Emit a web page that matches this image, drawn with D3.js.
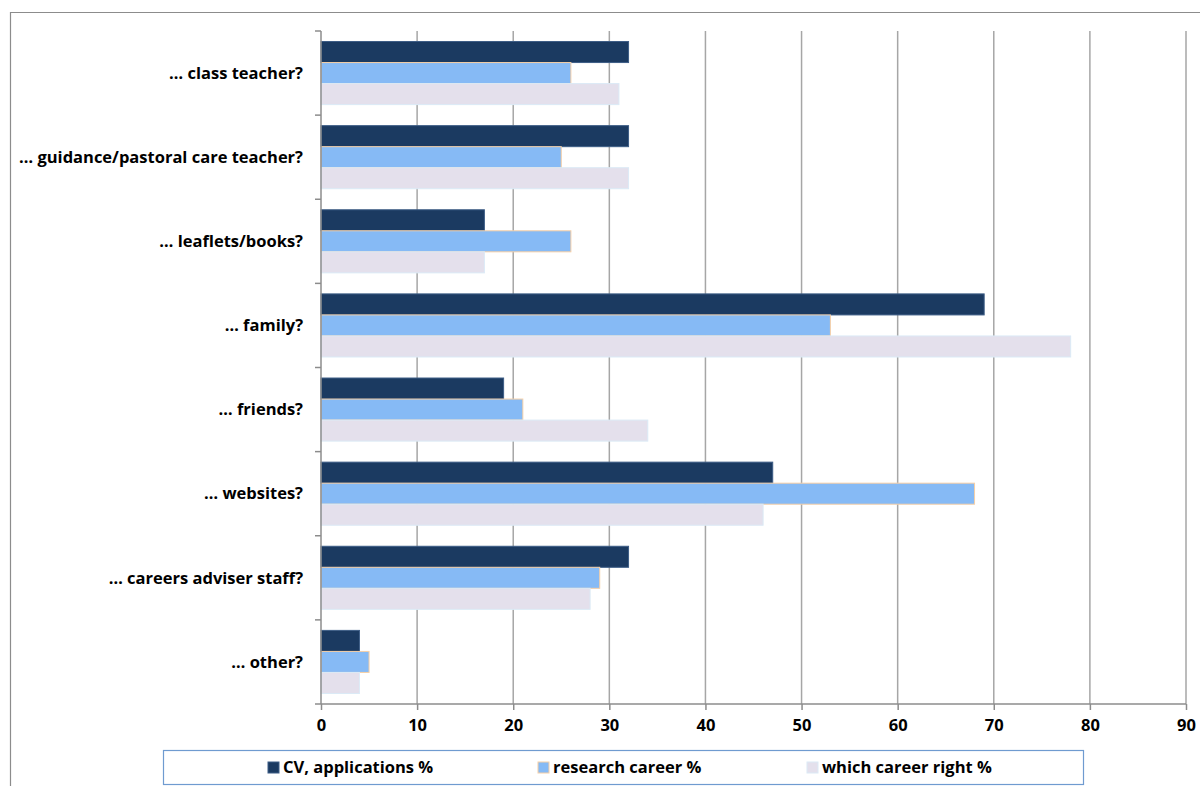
<!DOCTYPE html>
<html>
<head>
<meta charset="utf-8">
<script src="https://cdn.jsdelivr.net/npm/d3@7"></script>
<style>
  body { margin: 0; background: #fff; }
  svg text { font-family: "Open Sans", "Liberation Sans", sans-serif; font-weight: 700; fill: #000; }
</style>
</head>
<body>
<svg class="chart"></svg>
<script>
var width = 1200;
var height = 786;

// chart values
var categories = [
    "\u2026 class teacher?",
    "\u2026 guidance/pastoral care teacher?",
    "\u2026 leaflets/books?",
    "\u2026 family?",
    "\u2026 friends?",
    "\u2026 websites?",
    "\u2026 careers adviser staff?",
    "\u2026 other?"
];
var seriesNames = ["CV, applications %", "research career %", "which career right %"];
var cvApplications = [32, 32, 17, 69, 19, 47, 32, 4];
var researchCareer = [26, 25, 26, 53, 21, 68, 29, 5];
var careerRight = [31, 32, 17, 78, 34, 46, 28, 4];
var xTicks = [0, 10, 20, 30, 40, 50, 60, 70, 80, 90];

var fills = ["#1b3a61", "#86baf5", "#e4e0ec"];
var strokes = ["#3d5d86", "#f6cfa6", "#dbeaf6"];

var fontSize = "16.5px";
var margin = { top: 31, left: 321, right: 14, bottom: 82 };

var chart = d3.select(".chart")
    .attr("width", width)
    .attr("height", height);

// outer frame (only top and left edges are in view)
chart.append("path")
    .attr("d", "M10.5,786V12.5H1200")
    .attr("fill", "none")
    .attr("stroke", "#8c8c8c")
    .attr("stroke-width", 1.2);

var x = d3.scaleLinear()
    .domain([0, 90])
    .range([margin.left, width - margin.right]);

var y = d3.scaleBand()
    .domain(categories)
    .range([margin.top, height - margin.bottom])
    .paddingInner(0.25)
    .paddingOuter(0.125);

var ySub = d3.scaleBand()
    .domain([0, 1, 2])
    .range([0, y.bandwidth()]);

var g = chart.append("g");

// vertical gridlines
g.selectAll("line.grid")
    .data(xTicks.slice(1))
    .enter()
    .append("line")
    .attr("class", "grid")
    .attr("x1", function(d) { return x(d); })
    .attr("x2", function(d) { return x(d); })
    .attr("y1", margin.top)
    .attr("y2", height - margin.bottom)
    .attr("stroke", "#a6a6a6")
    .attr("stroke-width", 1.5);

// bars
var series = [cvApplications, researchCareer, careerRight];
series.forEach(function(vals, si) {
    g.selectAll("rect.s" + si)
        .data(vals)
        .enter()
        .append("rect")
        .attr("class", "s" + si)
        .attr("x", x(0))
        .attr("y", function(d, i) { return y(categories[i]) + ySub(si); })
        .attr("width", function(d) { return x(d) - x(0); })
        .attr("height", ySub.bandwidth())
        .attr("fill", fills[si])
        .attr("stroke", strokes[si])
        .attr("stroke-width", 1);
});

// x axis
var xAxis = d3.axisBottom(x)
    .tickValues(xTicks)
    .tickSize(6)
    .tickPadding(9);

var gx = chart.append("g")
    .attr("transform", "translate(0," + (height - margin.bottom) + ")")
    .call(xAxis);
gx.select(".domain").attr("stroke", "#8c8c8c").attr("stroke-width", 1.5)
    .attr("d", "M" + (x(0) - 6) + ",0H" + x(90));
gx.selectAll(".tick line").attr("stroke", "#8c8c8c").attr("stroke-width", 1.5);
gx.selectAll(".tick text").style("font-size", fontSize);

// y axis: ticks sit on category boundaries
var boundaries = categories.map(function(c) { return y(c) - y.step() * y.paddingInner() / 2; });

var gy = chart.append("g");
gy.append("line")
    .attr("x1", x(0)).attr("x2", x(0))
    .attr("y1", margin.top).attr("y2", height - margin.bottom)
    .attr("stroke", "#8c8c8c").attr("stroke-width", 1.5);
gy.selectAll("line.ytick")
    .data(boundaries)
    .enter()
    .append("line")
    .attr("class", "ytick")
    .attr("x1", x(0) - 6).attr("x2", x(0))
    .attr("y1", function(d) { return d; })
    .attr("y2", function(d) { return d; })
    .attr("stroke", "#8c8c8c").attr("stroke-width", 1.5);
gy.selectAll("text")
    .data(categories)
    .enter()
    .append("text")
    .attr("x", x(0) - 18)
    .attr("y", function(d) { return y(d) + y.bandwidth() / 2; })
    .attr("dy", "0.35em")
    .attr("text-anchor", "end")
    .style("font-size", fontSize)
    .text(function(d) { return d; });

// legend
var legend = chart.append("g");
legend.append("rect")
    .attr("x", 163.5).attr("y", 750.5)
    .attr("width", 920).attr("height", 34)
    .attr("fill", "#fff")
    .attr("stroke", "#6f9bd0")
    .attr("stroke-width", 1.2);

var legendX = [268, 538, 807];
var items = legend.selectAll("g.item")
    .data(seriesNames)
    .enter()
    .append("g")
    .attr("class", "item")
    .attr("transform", function(d, i) { return "translate(" + legendX[i] + ",762)"; });
items.append("rect")
    .attr("width", 11).attr("height", 11)
    .attr("fill", function(d, i) { return fills[i]; })
    .attr("stroke", function(d, i) { return strokes[i]; });
items.append("text")
    .attr("x", 15)
    .attr("y", 5.5)
    .attr("dy", "0.35em")
    .style("font-size", fontSize)
    .text(function(d) { return d; });
</script>
</body>
</html>
